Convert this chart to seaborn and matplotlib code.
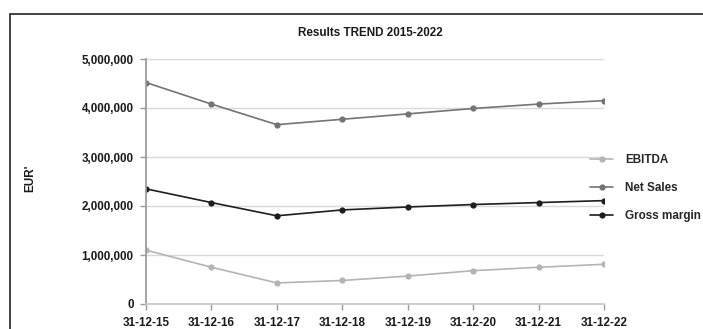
import matplotlib
matplotlib.use("Agg")
import matplotlib.pyplot as plt
from matplotlib.patches import Rectangle
import seaborn as sns
import pandas as pd

# Year-end dates and reported figures (EUR)
dates = ["31-12-15", "31-12-16", "31-12-17", "31-12-18",
         "31-12-19", "31-12-20", "31-12-21", "31-12-22"]
ebitda = [1100000, 750000, 430000, 480000, 570000, 680000, 750000, 810000]
net_sales = [4520000, 4080000, 3660000, 3770000, 3880000, 3990000, 4080000, 4150000]
gross_margin = [2350000, 2070000, 1800000, 1920000, 1980000, 2030000, 2070000, 2110000]
series_names = ["EBITDA", "Net Sales", "Gross margin"]
y_ticks = [0, 1000000, 2000000, 3000000, 4000000, 5000000]

sns.set_theme(style="white")
plt.rcParams["font.family"] = ["Liberation Sans", "DejaVu Sans"]

df = pd.DataFrame({
    "date": dates * 3,
    "pos": list(range(len(dates))) * 3,
    "value": ebitda + net_sales + gross_margin,
    "series": sum([[n] * len(dates) for n in series_names], []),
})

palette = {"EBITDA": "#b4b4b4", "Net Sales": "#747474", "Gross margin": "#1e1e1e"}
fs = 8.4
txt = "#1a1a1a"

fig = plt.figure(figsize=(7.03, 3.29), dpi=100)
ax = fig.add_axes([146 / 703, 1 - 304 / 329, (604 - 146) / 703, (304 - 59) / 329])

sns.lineplot(data=df, x="pos", y="value", hue="series", hue_order=series_names,
             palette=palette, marker="o", markersize=4.5, markeredgewidth=0,
             linewidth=1.2, ax=ax)

ax.set_xlim(0, len(dates) - 1)
ax.set_ylim(0, 5000000)
ax.set_yticks(y_ticks)
ax.set_yticklabels([f"{v:,}" for v in y_ticks], fontsize=fs, fontweight="bold", color=txt)
ax.set_xticks(range(len(dates)))
ax.set_xticklabels(dates, fontsize=fs, fontweight="bold", color=txt)
ax.yaxis.grid(True, color="#d9d9d9", linewidth=1)
ax.set_axisbelow(True)
for side in ["top", "right"]:
    ax.spines[side].set_visible(False)
ax.spines["left"].set_color("#9a9a9a")
ax.spines["bottom"].set_color("#c8c8c8")
ax.tick_params(axis="both", which="both", length=4, width=1, color="#9a9a9a",
               direction="out", left=True, bottom=True, pad=5)
ax.set_xlabel("")
ax.set_ylabel("")

fig.text(30 / 703, 1 - 178 / 329, "EUR'", rotation=90, ha="center", va="center",
         fontsize=fs, fontweight="bold", color=txt)
fig.text(370 / 703, 1 - 33 / 329, "Results TREND 2015-2022", ha="center", va="center",
         fontsize=fs, fontweight="bold", color=txt)

handles, labels = ax.get_legend_handles_labels()
ax.legend(handles, labels, loc="center left", bbox_to_anchor=(590 / 703, 1 - 188 / 329),
          bbox_transform=fig.transFigure, frameon=False,
          borderpad=0, borderaxespad=0,
          handlelength=2.0, handletextpad=1.0, labelspacing=1.38,
          prop={"weight": "bold", "size": fs})

# outer frame
fig.patches.append(Rectangle((10 / 703, -0.1), 1.2, 1 - 14 / 329 + 0.1,
                             transform=fig.transFigure, fill=False,
                             edgecolor="#222222", linewidth=1.2))

fig.savefig("out.png", dpi=100)
